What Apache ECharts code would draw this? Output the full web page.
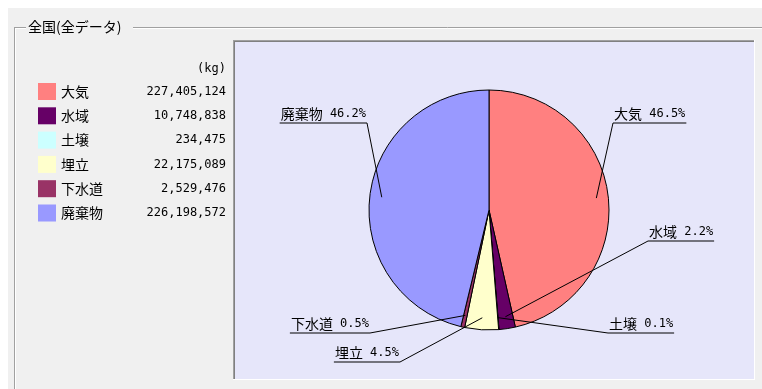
<!DOCTYPE html>
<html>
<head>
<meta charset="utf-8">
<script src="https://cdn.jsdelivr.net/npm/echarts@6/dist/echarts.min.js"></script>
<style>
  html, body { margin: 0; padding: 0; background: #fff; }
  #chart { width: 762px; height: 389px; }
</style>
</head>
<body>
<div id="chart"></div>
<script>
// 排出先ごとの量 (kg)
var categories = ['大気', '水域', '土壌', '埋立', '下水道', '廃棄物'];
var amounts = [227405124, 10748838, 234475, 22175089, 2529476, 226198572];
var unitLabel = '(kg)';
var titleText = '全国(全データ)';

var colors = ['#ff8080', '#660066', '#ccffff', '#ffffcc', '#993366', '#9999ff'];

// ラベルの折れ点（円の中心からのずれ px）
var elbows = [[124, -87], [159, 31], [119, 123], [-89, 152], [-119, 123], [-122, -87]];
var cx = 489, cy = 210, radius = 120;

var jp = 'Noto Sans CJK JP';
var mono = 'DejaVu Sans Mono';

function comma(v) {
  return String(v).replace(/\B(?=(\d{3})+(?!\d))/g, ',');
}

var chart = echarts.init(document.getElementById('chart'));

var pieData = categories.map(function (name, i) {
  return { name: name, value: amounts[i], itemStyle: { color: colors[i] } };
});
var labelData = categories.map(function (name, i) {
  return { name: name, value: amounts[i] };
});

function hline(x1, x2, y, color) {
  return { type: 'line', silent: true, shape: { x1: x1, y1: y, x2: x2, y2: y }, style: { stroke: color, lineWidth: 1 } };
}
function vline(x, y1, y2, color) {
  return { type: 'line', silent: true, shape: { x1: x, y1: y1, x2: x, y2: y2 }, style: { stroke: color, lineWidth: 1 } };
}

var option = {
  animation: false,
  backgroundColor: '#fff',
  graphic: [
    { type: 'rect', silent: true, shape: { x: 8, y: 8, width: 754, height: 381 }, style: { fill: '#f0f0f0' } },
    // グループ枠
    hline(15, 26, 27.5, '#a0a0a0'),
    hline(16, 26, 28.5, '#ffffff'),
    hline(133, 762, 27.5, '#a0a0a0'),
    hline(133, 762, 28.5, '#ffffff'),
    vline(14.5, 27, 389, '#a0a0a0'),
    vline(15.5, 28, 389, '#ffffff'),
    {
      type: 'text', silent: true, x: 28, y: 27,
      style: { text: titleText, font: '14px "' + jp + '"', fill: '#000', verticalAlign: 'middle' }
    },
    // プロット領域
    { type: 'rect', silent: true, shape: { x: 233, y: 40, width: 522, height: 340 }, style: { fill: '#e6e6fa' } },
    hline(233, 755, 40.5, '#a0a0a0'),
    vline(233.5, 40, 380, '#a0a0a0'),
    hline(234, 754, 41.5, '#808080'),
    vline(234.5, 41, 379, '#808080'),
    hline(233, 755, 379.5, '#ffffff'),
    vline(754.5, 40, 380, '#ffffff'),
    {
      type: 'text', silent: true, x: 226, y: 69,
      style: { text: unitLabel, font: '12px "' + mono + '"', fill: '#000', align: 'right', verticalAlign: 'middle' }
    }
  ],
  legend: {
    orient: 'vertical',
    left: 38,
    top: 83,
    padding: 0,
    itemWidth: 18,
    itemHeight: 17,
    itemGap: 7.3,
    icon: 'rect',
    selectedMode: false,
    itemStyle: { borderWidth: 0 },
    data: categories,
    formatter: function (name) {
      var i = categories.indexOf(name);
      return '{n|' + name + '}{v|' + comma(amounts[i]) + '}';
    },
    textStyle: {
      rich: {
        n: { fontFamily: jp, fontSize: 14, color: '#000', width: 62, lineHeight: 17 },
        v: { fontFamily: mono, fontSize: 12, color: '#000', width: 103, align: 'right', lineHeight: 17 }
      }
    }
  },
  series: [
    {
      type: 'pie',
      z: 2,
      center: [cx, cy],
      radius: radius,
      startAngle: 90,
      clockwise: true,
      silent: true,
      itemStyle: { borderColor: '#000', borderWidth: 1 },
      emphasis: { disabled: true },
      label: { show: false },
      labelLine: { show: false },
      data: pieData
    },
    {
      // ラベル用（透明、引出線を円の上に描く）
      type: 'pie',
      z: 5,
      center: [cx, cy],
      radius: radius * 0.9,
      startAngle: 90,
      clockwise: true,
      percentPrecision: 1,
      avoidLabelOverlap: false,
      silent: true,
      legendHoverLink: false,
      itemStyle: { color: 'rgba(0,0,0,0)', borderWidth: 0 },
      emphasis: { disabled: true },
      label: {
        show: true,
        position: 'outside',
        formatter: '{n|{b}}{v| {d}%}',
        rich: {
          n: { fontFamily: jp, fontSize: 14, color: '#000', lineHeight: 16 },
          v: { fontFamily: mono, fontSize: 12, color: '#000', lineHeight: 16 }
        }
      },
      labelLine: { show: true, length: 10, length2: 10, lineStyle: { color: '#000', width: 1 } },
      labelLayout: function (p) {
        var e = elbows[p.dataIndex];
        var a = p.labelLinePoints[0];
        var ex = cx + e[0], ey = cy + e[1];
        var w = p.labelRect.width;
        var right = e[0] > 0;
        return {
          x: right ? ex + 1 : ex - 1,
          y: ey - 1,
          align: right ? 'left' : 'right',
          verticalAlign: 'bottom',
          labelLinePoints: [[a[0], a[1]], [ex, ey], [right ? ex + w + 2 : ex - w - 2, ey]]
        };
      },
      data: labelData
    }
  ]
};

chart.setOption(option);
</script>
</body>
</html>
